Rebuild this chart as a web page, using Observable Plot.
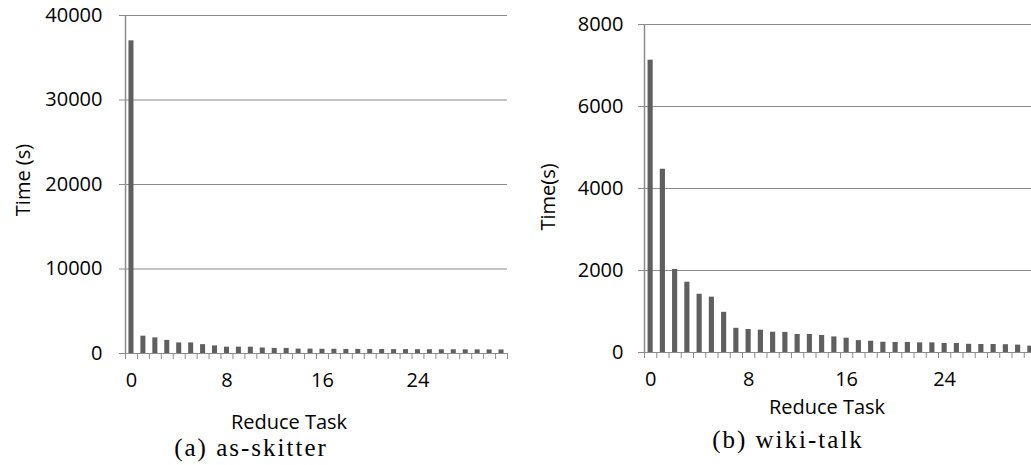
<!DOCTYPE html>
<html><head><meta charset="utf-8">
<script src="https://cdn.jsdelivr.net/npm/d3@7"></script>
<script src="https://cdn.jsdelivr.net/npm/@observablehq/plot@0.6"></script>
<style>
body{margin:0;background:#fff;overflow:hidden;}
#wrap{position:relative;width:1031px;height:465px;overflow:hidden;background:#fff;}
#wrap svg{position:absolute;top:0;}
.lbl{position:absolute;transform:translate(-50%,-50%);white-space:nowrap;font-family:"Open Sans";font-size:20px;color:#000;line-height:1;}
.rot{transform:translate(-50%,-50%) rotate(-90deg);}
.cap{font-family:"Liberation Serif";font-size:25px;letter-spacing:2px;line-height:0.9;}
</style></head><body><div id="wrap"></div>
<script>
const tasks = [0,1,2,3,4,5,6,7,8,9,10,11,12,13,14,15,16,17,18,19,20,21,22,23,24,25,26,27,28,29,30,31];
const skitterTime = [37000,2050,1850,1550,1250,1250,1050,900,750,750,750,650,600,600,520,520,500,500,480,480,480,470,460,460,450,450,440,440,430,430,420,420];
const wikiTime = [7130,4470,2025,1715,1420,1350,980,590,560,545,495,490,440,440,415,380,350,290,275,250,245,245,235,235,220,220,200,195,195,190,180,155];
const skitterYTicks = [0,10000,20000,30000,40000];
const wikiYTicks = [0,2000,4000,6000,8000];
const xTickLabels = [0,8,16,24];

const AXIS = "#8c8c8c", BAR = "#5f5f5f";

function chart({values, yTicks, left, width, marginLeft, marginTop, marginBottom, marginRight, yPad}) {
  const data = tasks.map((t, i) => ({task: t, time: values[i]}));
  const bounds = tasks.map(t => t - 0.5).concat([tasks[tasks.length - 1] + 0.5]);
  const svg = Plot.plot({
    width, height: 400, marginLeft, marginTop, marginBottom, marginRight,
    style: {fontFamily: "Open Sans", fontSize: "20px", background: "transparent", overflow: "visible"},
    x: {domain: [bounds[0], bounds[bounds.length - 1]], axis: null},
    y: {domain: [0, yTicks[yTicks.length - 1]], axis: null},
    marks: [
      Plot.ruleY(yTicks.filter(v => v > 0), {stroke: AXIS, strokeWidth: 1.2}),
      Plot.rect(data, {x1: d => d.task - 0.21, x2: d => d.task + 0.21, y1: 0, y2: "time", fill: BAR}),
      Plot.ruleY([0], {stroke: AXIS, strokeWidth: 1.2}),
      Plot.ruleX([bounds[0]], {stroke: AXIS, strokeWidth: 1.5}),
      Plot.axisY({ticks: yTicks, tickSize: 6, tickPadding: yPad, tickFormat: d => String(d), stroke: AXIS, fill: "#000", label: null, fontSize: 20}),
      Plot.axisX({ticks: bounds, tickSize: 6, tickFormat: () => "", stroke: AXIS, label: null}),
      Plot.axisX({ticks: xTickLabels, tickSize: 0, tickPadding: 19, tickFormat: d => String(d), fill: "#000", label: null, fontSize: 20})
    ]
  });
  svg.style.left = left + "px";
  return svg;
}

const wrap = document.getElementById("wrap");
wrap.appendChild(chart({values: skitterTime, yTicks: skitterYTicks, left: 0, width: 520, marginLeft: 125, marginRight: 13, marginTop: 15, marginBottom: 47, yPad: 17}));
wrap.appendChild(chart({values: wikiTime, yTicks: wikiYTicks, left: 520, width: 516, marginLeft: 124, marginRight: 0, marginTop: 24, marginBottom: 48, yPad: 15}));

function label(text, x, y, cls) {
  const d = document.createElement("div");
  d.className = "lbl " + (cls || "");
  d.textContent = text;
  d.style.left = x + "px";
  d.style.top = y + "px";
  wrap.appendChild(d);
}
label("Time (s)", 23, 180, "rot");
label("Time(s)", 548, 197, "rot");
label("Reduce Task", 289, 422);
label("Reduce Task", 827, 407);
label("(a) as-skitter", 251, 448, "cap");
label("(b) wiki-talk", 788, 440, "cap");
</script>
</body></html>
